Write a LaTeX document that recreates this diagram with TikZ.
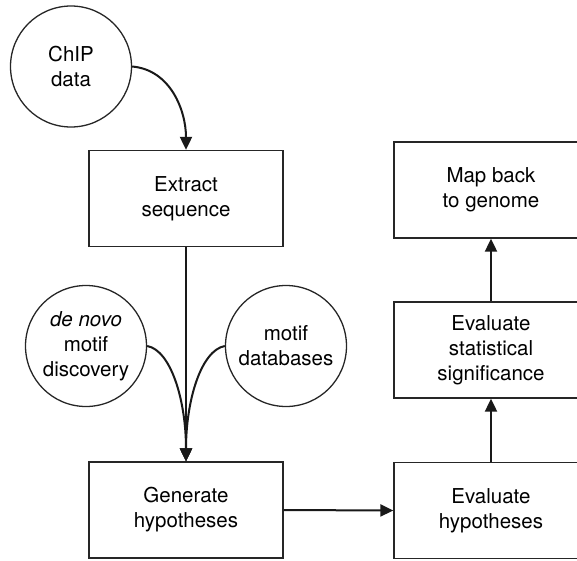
\documentclass[tikz,border=0pt]{standalone}
\usepackage{fontspec}
\setmainfont{TeX Gyre Heros}
\usepackage{tikz}
\usetikzlibrary{positioning, arrows.meta}

\begin{document}
\begin{tikzpicture}[x=1pt, y=1pt,
    stagebox/.style={draw=black!85, line width=1.3pt, minimum width=194pt, minimum height=96pt, inner sep=0pt, align=center, font=\fontsize{20.5}{25}\selectfont},
    source/.style={draw=black!85, line width=1.3pt, circle, minimum size=121pt, inner sep=0pt, align=center, font=\fontsize{20.5}{25}\selectfont},
    flow/.style={line width=2pt, black!90, -{Triangle[length=13pt, width=12pt]}}]
    \useasboundingbox (0,0) rectangle (577,-560);
    \clip (0,0) rectangle (577,-560);

    \node[source] (chip) at (71,-66.5) {ChIP\\data};
    \node[stagebox] (extract) at (186,-198.5) {Extract\\sequence};
    \node[source] (denovo) at (86,-346) {\textit{de novo}\\motif\\discovery};
    \node[source] (motifdb) at (286,-346) {motif\\databases};
    \node[stagebox] (generate) at (186,-510) {Generate\\hypotheses};
    \node[stagebox] (evalhyp) at (491,-510.5) {Evaluate\\hypotheses};
    \node[stagebox] (evalstat) at (491,-350) {Evaluate\\statistical\\significance};
    \node[stagebox] (mapback) at (491,-190) {Map back\\to genome};

    \draw[flow] (chip.east) to[out=-5, in=90] (extract.north);
    \draw[flow] (extract.south) -- (generate.north);
    \draw[flow] (denovo.east) to[out=-10, in=90, out looseness=0.5, in looseness=1.3] (generate.north);
    \draw[flow] (motifdb.west) to[out=190, in=90, out looseness=0.5, in looseness=1.3] (generate.north);
    \draw[flow] (generate.east) -- (evalhyp.west);
    \draw[flow] (evalhyp.north) -- (evalstat.south);
    \draw[flow] (evalstat.north) -- (mapback.south);
\end{tikzpicture}
\end{document}
